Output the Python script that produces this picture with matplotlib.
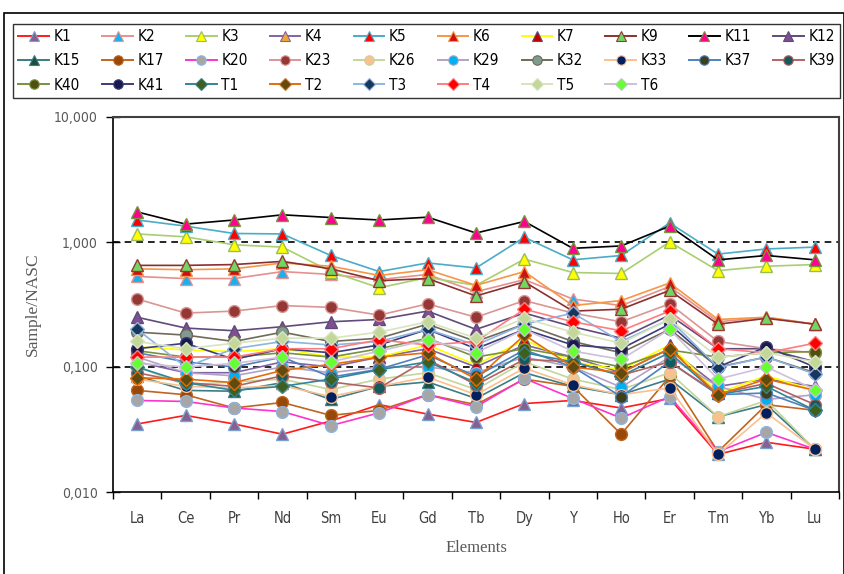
import matplotlib
matplotlib.use("Agg")
import matplotlib.pyplot as plt
from matplotlib.patches import Rectangle
from matplotlib.lines import Line2D
from matplotlib.ticker import FixedLocator, FuncFormatter, NullLocator

elements = ["La", "Ce", "Pr", "Nd", "Sm", "Eu", "Gd", "Tb", "Dy", "Y", "Ho", "Er", "Tm", "Yb", "Lu"]

# REE normalised to NASC
K1 = [0.035, 0.041, 0.035, 0.029, 0.037, 0.050, 0.042, 0.036, 0.051, 0.054, 0.047, 0.056, 0.020, 0.025, 0.022]
K2 = [0.53, 0.51, 0.51, 0.58, 0.55, 0.50, 0.55, 0.40, 0.50, 0.35, 0.31, 0.44, 0.23, 0.25, 0.22]
K3 = [1.16, 1.10, 0.95, 0.91, 0.58, 0.43, 0.52, 0.45, 0.73, 0.57, 0.56, 1.00, 0.59, 0.64, 0.66]
K4 = [0.11, 0.09, 0.09, 0.11, 0.10, 0.12, 0.14, 0.10, 0.15, 0.12, 0.09, 0.14, 0.07, 0.08, 0.07]
K5 = [1.50, 1.34, 1.17, 1.16, 0.78, 0.58, 0.68, 0.62, 1.09, 0.72, 0.78, 1.42, 0.80, 0.88, 0.91]
K6 = [0.61, 0.60, 0.61, 0.68, 0.64, 0.54, 0.60, 0.45, 0.58, 0.31, 0.34, 0.47, 0.24, 0.25, 0.22]
K7 = [0.145, 0.137, 0.133, 0.14, 0.12, 0.12, 0.15, 0.104, 0.165, 0.11, 0.095, 0.15, 0.062, 0.085, 0.065]
K9 = [0.65, 0.65, 0.66, 0.70, 0.61, 0.49, 0.51, 0.37, 0.48, 0.28, 0.29, 0.41, 0.22, 0.245, 0.22]
K11 = [1.74, 1.39, 1.50, 1.65, 1.57, 1.50, 1.58, 1.18, 1.46, 0.89, 0.93, 1.34, 0.72, 0.78, 0.72]
K12 = [0.25, 0.205, 0.195, 0.21, 0.23, 0.24, 0.28, 0.20, 0.27, 0.21, 0.17, 0.26, 0.14, 0.14, 0.11]
K15 = [0.085, 0.065, 0.064, 0.075, 0.055, 0.07, 0.076, 0.056, 0.09, 0.07, 0.06, 0.08, 0.040, 0.05, 0.022]
K17 = [0.065, 0.060, 0.047, 0.052, 0.041, 0.045, 0.060, 0.050, 0.080, 0.070, 0.029, 0.084, 0.021, 0.050, 0.045]
K20 = [0.054, 0.053, 0.047, 0.044, 0.034, 0.043, 0.060, 0.048, 0.081, 0.056, 0.039, 0.058, 0.021, 0.030, 0.022]
K23 = [0.35, 0.27, 0.28, 0.31, 0.30, 0.26, 0.32, 0.25, 0.34, 0.27, 0.23, 0.32, 0.16, 0.14, 0.13]
K26 = [0.10, 0.072, 0.076, 0.08, 0.066, 0.08, 0.09, 0.066, 0.11, 0.08, 0.066, 0.09, 0.040, 0.054, 0.022]
K29 = [0.12, 0.09, 0.085, 0.10, 0.09, 0.10, 0.10, 0.09, 0.12, 0.10, 0.069, 0.12, 0.07, 0.055, 0.06]
K32 = [0.19, 0.18, 0.16, 0.19, 0.16, 0.17, 0.22, 0.16, 0.22, 0.16, 0.13, 0.20, 0.10, 0.12, 0.09]
K33 = [0.08, 0.07, 0.068, 0.071, 0.058, 0.07, 0.083, 0.06, 0.098, 0.072, 0.06, 0.068, 0.020, 0.043, 0.022]
K37 = [0.13, 0.11, 0.10, 0.12, 0.083, 0.096, 0.125, 0.084, 0.137, 0.10, 0.058, 0.11, 0.06, 0.062, 0.045]
K39 = [0.09, 0.075, 0.07, 0.085, 0.076, 0.068, 0.115, 0.072, 0.115, 0.11, 0.086, 0.11, 0.061, 0.074, 0.05]
K40 = [0.135, 0.12, 0.12, 0.13, 0.12, 0.14, 0.17, 0.12, 0.14, 0.12, 0.10, 0.137, 0.12, 0.13, 0.133]
K41 = [0.14, 0.155, 0.115, 0.14, 0.13, 0.15, 0.20, 0.14, 0.20, 0.15, 0.14, 0.22, 0.10, 0.145, 0.10]
T1 = [0.10, 0.075, 0.065, 0.07, 0.08, 0.095, 0.11, 0.075, 0.13, 0.11, 0.085, 0.13, 0.06, 0.07, 0.045]
T2 = [0.082, 0.08, 0.075, 0.094, 0.105, 0.12, 0.13, 0.08, 0.18, 0.10, 0.09, 0.14, 0.06, 0.08, 0.065]
T3 = [0.20, 0.10, 0.14, 0.16, 0.15, 0.16, 0.20, 0.15, 0.22, 0.27, 0.16, 0.24, 0.099, 0.12, 0.088]
T4 = [0.12, 0.12, 0.12, 0.14, 0.14, 0.165, 0.15, 0.16, 0.29, 0.23, 0.195, 0.28, 0.14, 0.13, 0.155]
T5 = [0.16, 0.14, 0.155, 0.17, 0.17, 0.19, 0.23, 0.17, 0.245, 0.19, 0.155, 0.24, 0.12, 0.13, 0.11]
T6 = [0.107, 0.10, 0.107, 0.12, 0.11, 0.134, 0.165, 0.13, 0.20, 0.134, 0.115, 0.20, 0.08, 0.10, 0.066]

samples = ["K1", "K2", "K3", "K4", "K5", "K6", "K7", "K9", "K11", "K12",
           "K15", "K17", "K20", "K23", "K26", "K29", "K32", "K33", "K37", "K39",
           "K40", "K41", "T1", "T2", "T3", "T4", "T5", "T6"]
values = [K1, K2, K3, K4, K5, K6, K7, K9, K11, K12,
          K15, K17, K20, K23, K26, K29, K32, K33, K37, K39,
          K40, K41, T1, T2, T3, T4, T5, T6]

# (line colour, marker, face colour, edge colour)
styles = {
    "K1": ("#ff1a1a", "^", "#86608e", "#7aa0d0"),
    "K2": ("#e6908f", "^", "#1ab0f0", "#e6908f"),
    "K3": ("#a9cf6f", "^", "#ffff00", "#9bbb59"),
    "K4": ("#8064a2", "^", "#f0a830", "#8064a2"),
    "K5": ("#4bacc6", "^", "#ff0000", "#4bacc6"),
    "K6": ("#f79646", "^", "#d01010", "#f79646"),
    "K7": ("#ffff00", "^", "#c00000", "#604a7b"),
    "K9": ("#8b3030", "^", "#70d860", "#953735"),
    "K11": ("#000000", "^", "#ff0090", "#77933c"),
    "K12": ("#604a7b", "^", "#7f4f8f", "#604a7b"),
    "K15": ("#3a7d85", "^", "#1d4d3d", "#3a7d85"),
    "K17": ("#c0651f", "o", "#984807", "#c0651f"),
    "K20": ("#ff33cc", "o", "#a6a6a6", "#8db4e2"),
    "K23": ("#d99694", "o", "#953735", "#d99694"),
    "K26": ("#c3d69b", "o", "#fac090", "#c3d69b"),
    "K29": ("#b3a2c7", "o", "#00b0f0", "#b3a2c7"),
    "K32": ("#6f6a5a", "o", "#7f9a8f", "#6f6a5a"),
    "K33": ("#fac090", "o", "#002060", "#fac090"),
    "K37": ("#4f81bd", "o", "#3f3f1a", "#4f81bd"),
    "K39": ("#b36262", "o", "#125c5c", "#b36262"),
    "K40": ("#77933c", "o", "#4f4f10", "#77933c"),
    "K41": ("#3c3c7a", "o", "#1a1a4a", "#3c3c7a"),
    "T1": ("#31859c", "D", "#3f5f1f", "#31859c"),
    "T2": ("#e46c0a", "D", "#5f4a10", "#e46c0a"),
    "T3": ("#8db4e2", "D", "#17375e", "#8db4e2"),
    "T4": ("#ff7c80", "D", "#ff0000", "#ff7c80"),
    "T5": ("#d7e4bd", "D", "#c4d79b", "#d7e4bd"),
    "T6": ("#ccc0da", "D", "#66ff33", "#ccc0da"),
}

plt.rcParams['font.family'] = ['DejaVu Sans']
plt.rcParams['font.stretch'] = 'condensed'

fig = plt.figure(figsize=(8.45, 5.74), dpi=100)
ax = fig.add_axes([113 / 845, 82 / 574, 726 / 845, 375 / 574])

x = list(range(len(elements)))
handles = []
for name, vals in zip(samples, values):
    lc, mk, fc, ec = styles[name]
    ms = 8.5 if mk != "D" else 7.5
    ax.plot(x, vals, color=lc, lw=1.2, marker=mk, ms=ms, mfc=fc, mec=ec, mew=1.0)
    handles.append(Line2D([], [], color=lc, lw=1.4, marker=mk, ms=ms * 0.8,
                          mfc=fc, mec=ec, mew=0.8, label=name))

# legend fills column by column, so reorder to read across rows
ncol = 10
ordered = []
for c in range(ncol):
    ordered.extend(handles[c::ncol])

ax.set_yscale("log")
ax.set_ylim(0.01, 10)
ax.set_xlim(-0.5, len(elements) - 0.5)

for ref in [1, 0.1]:
    ax.axhline(ref, color="black", lw=1.2, ls=(0, (4, 3)), zorder=0.5)

ax.yaxis.set_major_locator(FixedLocator([0.01, 0.1, 1, 10]))
ax.yaxis.set_minor_locator(NullLocator())
ax.yaxis.set_major_formatter(FuncFormatter(lambda v, p: f"{v:.3f}".replace(".", ",")))
ax.tick_params(axis="y", direction="inout", length=10, width=1, labelsize=10,
               labelcolor="#595959", pad=6)

ax.set_xticks(x)
ax.set_xticklabels(elements)
ax.set_xticks([i - 0.5 for i in range(len(elements) + 1)], minor=True)
ax.tick_params(axis="x", which="major", length=0, labelsize=10.5, labelcolor="#404040", pad=14)
ax.tick_params(axis="x", which="minor", direction="out", length=5, width=1)

for side in ["left", "bottom"]:
    ax.spines[side].set_color("black")
    ax.spines[side].set_linewidth(1.2)
for side in ["top", "right"]:
    ax.spines[side].set_color("#404040")
    ax.spines[side].set_linewidth(1.5)

ax.set_ylabel("Sample/NASC", family=["Liberation Serif", "DejaVu Serif"], fontsize=12.5,
              color="#595959", labelpad=9)
ax.set_xlabel("Elements", family=["Liberation Serif", "DejaVu Serif"], fontsize=12,
              color="#595959", labelpad=10)

leg = fig.legend(handles=ordered, loc="lower left", ncol=ncol, mode="expand",
                 bbox_to_anchor=(13 / 845, 476 / 574, 827 / 845, 75 / 574),
                 borderaxespad=0, fontsize=11, handlelength=2.0, handletextpad=0.3,
                 columnspacing=0.6, labelspacing=0.6, fancybox=False, frameon=True,
                 borderpad=0.35)
leg.get_frame().set_edgecolor("black")
leg.get_frame().set_linewidth(1.0)

# outer border of the chart area
fig.patches.append(Rectangle((4.5 / 845, -0.01), 839.5 / 845, (574 - 12.5) / 574 + 0.01,
                             transform=fig.transFigure, fill=False, lw=1.2,
                             edgecolor="black"))

fig.savefig("out.png", dpi=100)
